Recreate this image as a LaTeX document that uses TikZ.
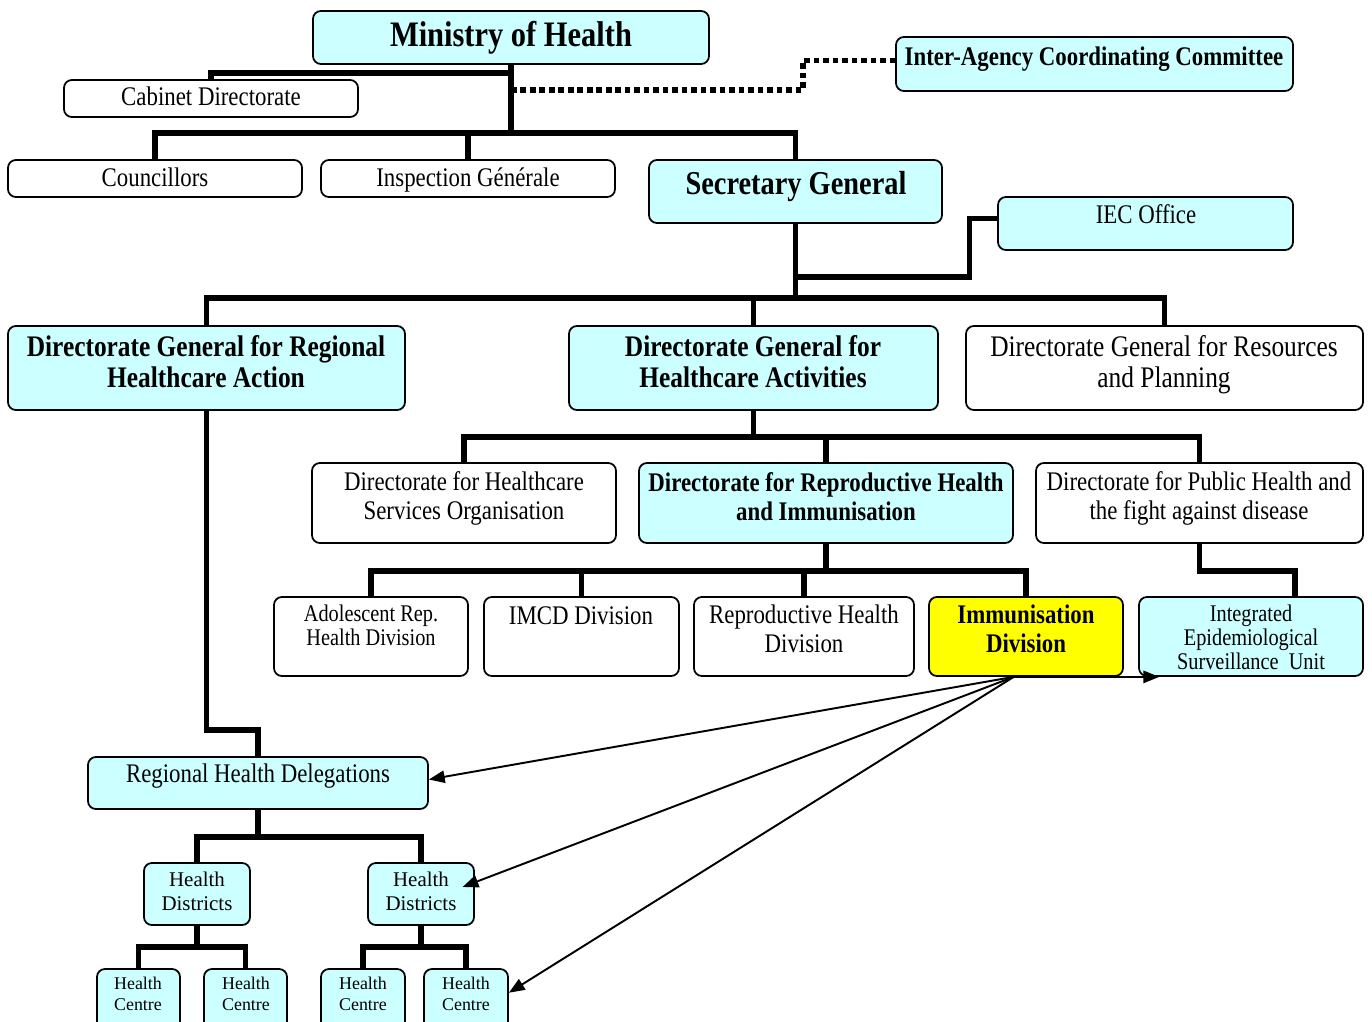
\documentclass[tikz,border=0pt]{standalone}
\usepackage{fontspec}
\setmainfont{Liberation Serif}[FakeStretch=0.85]
\newfontfamily\plainserif{Liberation Serif}
\usetikzlibrary{fit,arrows.meta,backgrounds}

\definecolor{aqua}{HTML}{CCFFFF}
\definecolor{mark}{HTML}{FFFF00}

\tikzset{
  box/.style={draw, line width=1pt, rounded corners=4.5pt, inner sep=0pt, fill=white},
  hibox/.style={box, fill=aqua},
  link/.style={line width=3pt, line join=miter},
  dots/.style={line width=3pt, dash pattern=on 3.2pt off 2.2pt},
  feed/.style={line width=1.1pt, -{Triangle[length=9pt,width=7pt]}},
  lbl/.style={anchor=base, align=center, inner sep=0pt},
  huge/.style={lbl, font=\fontsize{20.4pt}{21pt}\selectfont\bfseries},
  large/.style={lbl, font=\fontsize{19pt}{20pt}\selectfont\bfseries},
  dgbold/.style={lbl, font=\fontsize{17pt}{17.6pt}\selectfont\bfseries},
  dgreg/.style={lbl, font=\fontsize{17pt}{17.6pt}\selectfont},
  norm/.style={lbl, font=\fontsize{15.3pt}{16.4pt}\selectfont},
  normbold/.style={lbl, font=\fontsize{15.3pt}{16.4pt}\selectfont\bfseries},
  small/.style={lbl, font=\fontsize{13.6pt}{13.6pt}\selectfont},
  dist/.style={lbl, font=\plainserif\fontsize{11.9pt}{13.6pt}\selectfont},
  cent/.style={lbl, font=\plainserif\fontsize{10.2pt}{11.9pt}\selectfont}
}

\begin{document}
\begin{tikzpicture}[x=0.02cm, y=-0.02cm]
  \useasboundingbox (0,0) rectangle (1372,1021);

  % top level
  \node[hibox, fit={(313,11) (709,64)}] (mh) {};
  \node[box, fit={(64,80) (358,117)}] (cab) {};
  \node[hibox, fit={(896,37) (1293,91)}] (iac) {};
  \node[box, fit={(8,160) (302,197)}] (coun) {};
  \node[box, fit={(321,160) (615,197)}] (insp) {};
  \node[hibox, fit={(649,160) (942,223)}] (sg) {};
  \node[hibox, fit={(998,197) (1293,250)}] (iec) {};

  \node[huge] (mhtext) at (511,46) {Ministry of Health};
  \node[norm] (cabtext) at (211,105) {Cabinet Directorate};
  \node[normbold] (iactext) at (1094,65) {Inter-Agency Coordinating Committee};
  \node[norm] (countext) at (155,186) {Councillors};
  \node[norm] (insptext) at (468,186) {Inspection Générale};
  \node[large] (sgtext) at (796,194) {Secretary General};
  \node[norm] (iectext) at (1146,223) {IEC Office};

  % directorates general
  \node[hibox, fit={(8,326) (405,410)}] (dgr) {};
  \node[hibox, fit={(569,326) (938,410)}] (dga) {};
  \node[box, fit={(966,326) (1363,410)}] (dgp) {};

  \node[dgbold] (dgrtext) at (206,387) {Directorate General for Regional\\Healthcare Action};
  \node[dgbold] (dgatext) at (753,387) {Directorate General for\\Healthcare Activities};
  \node[dgreg] (dgptext) at (1164,387) {Directorate General for Resources\\and Planning};

  % directorates
  \node[box, fit={(312,463) (616,543)}] (dhso) {};
  \node[hibox, fit={(639,463) (1013,543)}] (drhi) {};
  \node[box, fit={(1036,463) (1363,543)}] (dph) {};

  \node[norm] (dhsotext) at (464,519) {Directorate for Healthcare\\Services Organisation};
  \node[normbold] (drhitext) at (826,520) {Directorate for Reproductive Health\\and Immunisation};
  \node[norm] (dphtext) at (1199,519) {Directorate for Public Health and\\the fight against disease};

  % divisions
  \node[box, fit={(274,597) (468,676)}] (adol) {};
  \node[box, fit={(484,597) (679,676)}] (imcd) {};
  \node[box, fit={(694,597) (914,676)}] (rhdiv) {};
  \node[box, fill=mark, fit={(929,597) (1123,676)}] (imm) {};
  \node[hibox, fit={(1139,597) (1363,676)}] (ieu) {};

  \node[small] (adoltext) at (371,645) {Adolescent Rep.\\Health Division};
  \node[norm] (imcdtext) at (581,624) {IMCD Division};
  \node[norm] (rhdivtext) at (804,652) {Reproductive Health\\Division};
  \node[normbold] (immtext) at (1026,652) {Immunisation\\Division};
  \node[small] (ieutext) at (1251,669) {Integrated\\Epidemiological\\Surveillance\ \ Unit};

  % regional side
  \node[hibox, fit={(88,757) (428,809)}] (rhd) {};
  \node[hibox, fit={(144,863) (250,925)}] (hd1) {};
  \node[hibox, fit={(368,863) (474,925)}] (hd2) {};
  \node[hibox, fit={(97,969) (180,1040)}] (hc1) {};
  \node[hibox, fit={(204,969) (287,1040)}] (hc2) {};
  \node[hibox, fit={(321,969) (405,1040)}] (hc3) {};
  \node[hibox, fit={(424,969) (508,1040)}] (hc4) {};

  \node[norm] (rhdtext) at (258,782) {Regional Health Delegations};
  \node[dist] (hd1text) at (197,910) {Health\\Districts};
  \node[dist] (hd2text) at (421,910) {Health\\Districts};
  \node[cent] (hc1text) at (138,1010) {Health\\Centre};
  \node[cent] (hc2text) at (246,1010) {Health\\Centre};
  \node[cent] (hc3text) at (363,1010) {Health\\Centre};
  \node[cent] (hc4text) at (466,1010) {Health\\Centre};

  % hierarchy lines
  \begin{scope}[on background layer]
    \path (mh.south) ++(0,68) coordinate (bus1);
    \path (mh.south) ++(0,25) coordinate (dotj);
    \path (sg.south) ++(0,74) coordinate (bus2);
    \path (sg.south) ++(0,53) coordinate (iecj);
    \path (dga.south) ++(0,26) coordinate (bus3);
    \path (drhi.south) ++(0,27) coordinate (bus4);
    \path (rhd.south) ++(0,27) coordinate (bus5);
    \path (hd1.south) ++(0,21) coordinate (bus6);
    \path (hd2.south) ++(0,21) coordinate (bus7);

    \draw[link] (mh.south) -- (bus1);
    \draw[link] (mh.south) -- ++(0,8) -| (cab.north);
    \draw[link] (coun.north) |- (bus1) -| (sg.north);
    \draw[link] (insp.north) -- (insp.north |- bus1);
    \draw[dots] (dotj) -- ++(292,0) |- ([yshift=2pt]iac.west);

    \draw[link] (sg.south) -- (bus2);
    \draw[link] (iecj) -- ++(174,0) |- ([yshift=3pt]iec.west);
    \draw[link] (dgr.north) |- (bus2) -| (dgp.north);
    \draw[link] (dga.north) -- (dga.north |- bus2);

    \draw[link] (dga.south) -- (bus3);
    \draw[link] (dhso.north) |- (bus3) -| (dph.north);
    \draw[link] (drhi.north) -- (drhi.north |- bus3);

    \draw[link] (drhi.south) -- (bus4);
    \draw[link] (adol.north) |- (bus4) -| (imm.north);
    \draw[link] (imcd.north) -- (imcd.north |- bus4);
    \draw[link] (rhdiv.north) -- (rhdiv.north |- bus4);
    \draw[link] (dph.south) -- ++(0,27) -| ([xshift=25pt]ieu.north);

    \draw[link] (dgr.south) -- ++(0,319) -| (rhd.north);
    \draw[link] (rhd.south) -- (bus5);
    \draw[link] (hd1.north) |- (bus5) -| (hd2.north);
    \draw[link] (hd1.south) -- (bus6);
    \draw[link] (hc1.north) |- (bus6) -| (hc2.north);
    \draw[link] (hd2.south) -- (bus7);
    \draw[link] (hc3.north) |- (bus7) -| (hc4.north);
  \end{scope}

  % immunisation links
  \draw[feed] ([xshift=-7pt]imm.south) -- ([xshift=12pt]ieu.south west);
  \draw[feed] ([xshift=-7pt]imm.south) -- ([yshift=2pt]rhd.east);
  \draw[feed] ([xshift=-7pt]imm.south) -- ([xshift=-7pt,yshift=4pt]hd2.east);
  \draw[feed] ([xshift=-7pt]imm.south) -- ([yshift=-14pt]hc4.north east);
\end{tikzpicture}
\end{document}
